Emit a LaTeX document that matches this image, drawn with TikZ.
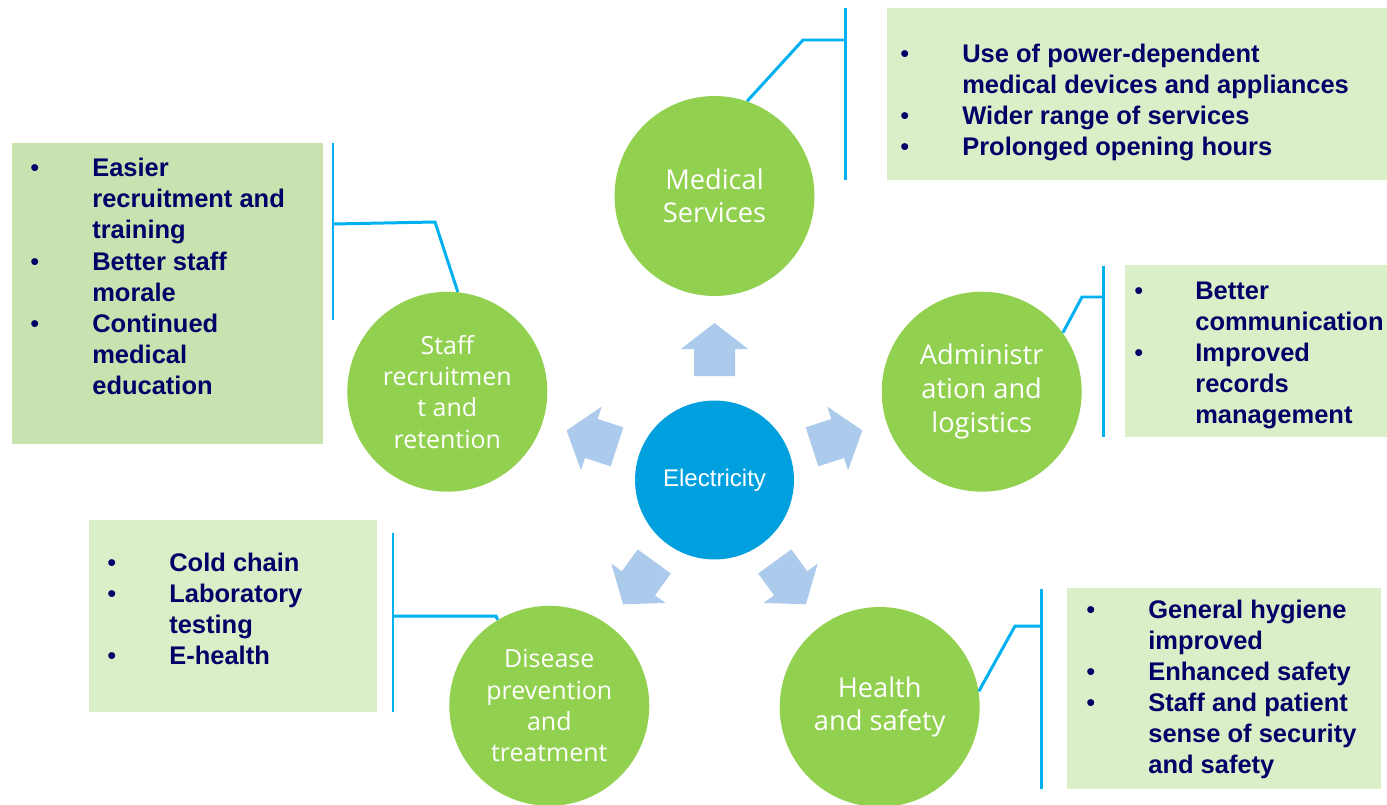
\documentclass[tikz,border=0pt]{standalone}
\usepackage{fontspec}
\setmainfont{Liberation Sans}
\newfontfamily\circfont{Open Sans}
\usetikzlibrary{positioning}

\definecolor{leafgreen}{RGB}{146,208,80}
\definecolor{hubblue}{RGB}{0,160,223}
\definecolor{paleblue}{RGB}{172,202,236}
\definecolor{linecyan}{RGB}{0,176,240}
\definecolor{boxlight}{RGB}{218,238,199}
\definecolor{boxdark}{RGB}{201,226,175}
\definecolor{navy}{RGB}{0,0,102}
\newcommand\blt{{\mdseries\textbullet}}

\begin{document}
\begin{tikzpicture}[
    x=0.02cm, y=-0.02cm,
    hub/.style={circle, fill=hubblue, minimum size=3.18cm, inner sep=0pt, text=white,
        font=\fontsize{13.7}{16}\selectfont},
    area/.style={circle, fill=leafgreen, minimum size=4cm, inner sep=0pt, text=white,
        align=center, font=\circfont\fontsize{15.5}{18.8}\selectfont},
    areawide/.style={area, font=\circfont\fontsize{15.5}{19.3}\selectfont},
    areasmall/.style={area, font=\circfont\fontsize{14.2}{17.8}\selectfont},
    powerarrow/.style={fill=paleblue},
    callout/.style={draw=linecyan, line width=1.7pt},
    bar/.style={draw=linecyan, line width=1.7pt},
    listbox/.style={rectangle, inner sep=0pt, anchor=north west},
    listtext/.style={anchor=base west, inner sep=0pt, text=navy,
        font=\bfseries\fontsize{14.5}{17.75}\selectfont}
]
\useasboundingbox (0,0) rectangle (1387,805);

% Centre
\node[hub] (elec) at (714.5,480) {Electricity};

% Arrows
\foreach \a in {0,72,144,216,288}
  \fill[powerarrow, shift={(714.5,478.5)}, rotate=\a]
    (0,-155.5) -- (33.5,-129.5) -- (20.5,-129.5) -- (20.5,-102.5)
    -- (-20.5,-102.5) -- (-20.5,-129.5) -- (-33.5,-129.5) -- cycle;

% Areas
\node[area] (med) at (714.5,196) {Medical\\Services};
\node[areasmall] (stf) at (447.3,391.7) {Staff\\recruitmen\\t and\\retention};
\node[areawide] (adm) at (981.7,391.7) {Administr\\ation and\\logistics};
\node[areasmall] (dis) at (549.3,705.8) {Disease\\prevention\\and\\treatment};
\node[area] (hs) at (879.7,707) {Health\\and safety};

% Boxes
\node[listbox, fill=boxlight, minimum width=10cm, minimum height=3.44cm] (medbox) at (887,8) {};
\node[listbox, fill=boxdark, minimum width=6.22cm, minimum height=6.02cm] (stfbox) at (12,143) {};
\node[listbox, fill=boxlight, minimum width=5.24cm, minimum height=3.44cm] (admbox) at (1125,265) {};
\node[listbox, fill=boxlight, minimum width=5.76cm, minimum height=3.84cm] (disbox) at (89,520) {};
\node[listbox, fill=boxlight, minimum width=6.28cm, minimum height=4.02cm] (hsbox) at (1067,588) {};

% Box texts
\node[listtext] (medtxt) at (900,62) {\begin{tabular}[t]{@{}p{1.24cm}@{}l@{}}
  \blt & Use of power-dependent\\
       & medical devices and appliances\\
  \blt & Wider range of services\\
  \blt & Prolonged opening hours
\end{tabular}};
\node[listtext] (stftxt) at (30,176.5) {\begin{tabular}[t]{@{}p{1.24cm}@{}l@{}}
  \blt & Easier\\
       & recruitment and\\
       & training\\
  \blt & Better staff\\
       & morale\\
  \blt & Continued\\
       & medical\\
       & education
\end{tabular}};
\node[listtext] (admtxt) at (1134,299) {\begin{tabular}[t]{@{}p{1.22cm}@{}l@{}}
  \blt & Better\\
       & communication\\
  \blt & Improved\\
       & records\\
       & management
\end{tabular}};
\node[listtext] (distxt) at (107,571) {\begin{tabular}[t]{@{}p{1.24cm}@{}l@{}}
  \blt & Cold chain\\
  \blt & Laboratory\\
       & testing\\
  \blt & E-health
\end{tabular}};
\node[listtext] (hstxt) at (1086,618) {\begin{tabular}[t]{@{}p{1.24cm}@{}l@{}}
  \blt & General hygiene\\
       & improved\\
  \blt & Enhanced safety\\
  \blt & Staff and patient\\
       & sense of security\\
       & and safety
\end{tabular}};

% Bars
\coordinate (medtop) at (845,8);
\coordinate (medbot) at (845,180);
\coordinate (medjoin) at (845,40);
\coordinate (medknee) at (803,40);
\coordinate (stftop) at (333,143);
\coordinate (stfbot) at (333,320);
\coordinate (stfjoin) at (333,224);
\coordinate (stfknee) at (435,222);
\coordinate (admtop) at (1103,266);
\coordinate (admbot) at (1103,437);
\coordinate (admjoin) at (1103,297);
\coordinate (admknee) at (1082,297);
\coordinate (distop) at (393,533);
\coordinate (disbot) at (393,712);
\coordinate (disjoin) at (393,616);
\coordinate (disknee) at (496,616);
\coordinate (hstop) at (1041,589);
\coordinate (hsbot) at (1041,789);
\coordinate (hsjoin) at (1041,626);
\coordinate (hsknee) at (1015,626);

\draw[bar] (medtop) -- (medbot);
\draw[bar] (stftop) -- (stfbot);
\draw[bar] (admtop) -- (admbot);
\draw[bar] (distop) -- (disbot);
\draw[bar] (hstop) -- (hsbot);

% Callouts
\draw[callout] (med.71) -- (medknee) -- (medjoin);
\draw[callout] (stf.84) -- (stfknee) -- (stfjoin);
\draw[callout] (adm.36) -- (admknee) -- (admjoin);
\draw[callout] (dis.121) -- (disknee) -- (disjoin);
\draw[callout] (hs.9) -- (hsknee) -- (hsjoin);
\end{tikzpicture}
\end{document}
